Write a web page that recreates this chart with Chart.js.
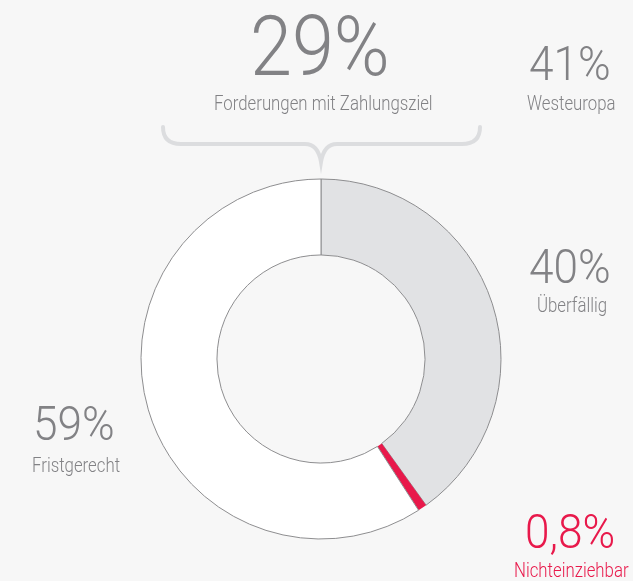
<!DOCTYPE html>
<html>
<head>
<meta charset="utf-8">
<script src="https://cdn.jsdelivr.net/npm/chart.js@4"></script>
<style>
  html, body { margin: 0; padding: 0; background: #f7f7f7; overflow: hidden; }
  #wrap { position: relative; width: 633px; height: 581px; }
  canvas { position: absolute; left: 0; top: 0; }
  .lbl {
    position: absolute; white-space: nowrap; line-height: 1;
    font-family: Roboto, sans-serif; font-weight: 300; color: #828285;
    transform-origin: 0 0;
  }
  .red { color: #e8194b; }
</style>
</head>
<body>
<div id="wrap">
  <canvas id="chart" width="633" height="581"></canvas>
</div>
<script>
// Anteile der Forderungen (Uhrzeigersinn ab 12 Uhr)
const categories = ['Überfällig', 'Nichteinziehbar', 'Fristgerecht'];
const shares = [40, 0.8, 59];
const sliceColors = ['#e1e2e4', '#e8194b', '#ffffff'];
const sliceBorders = ['#8d8d8f', '#e8194b', '#8d8d8f'];
const sliceBorderWidths = [1, 0, 1];

// Beschriftungen: [Text, Mitte x, Grundlinie y, Schriftgröße, Stauchung, rot?]
const labels = [
  ['29%', 320, 76, 84, 0.9, false],
  ['Forderungen mit Zahlungsziel', 323, 111, 21, 0.8, false],
  ['41%', 570, 80, 48, 0.92, false],
  ['Westeuropa', 571, 111, 21, 0.8, false],
  ['40%', 570, 283, 48, 0.92, false],
  ['Überfällig', 572, 313, 21, 0.8, false],
  ['59%', 74, 440, 48, 0.92, false],
  ['Fristgerecht', 76, 473, 21, 0.8, false],
  ['0,8%', 570, 548, 48, 0.92, true],
  ['Nichteinziehbar', 571, 578, 21, 0.8, true]
];

// Geschweifte Klammer über dem Diagramm
const bracePlugin = {
  id: 'brace',
  beforeDraw(chart) {
    const c = chart.ctx;
    c.save();
    c.strokeStyle = '#dcdddf';
    c.lineWidth = 4;
    c.lineCap = 'round';
    c.beginPath();
    c.moveTo(163, 127);
    c.quadraticCurveTo(163, 144, 181, 144);
    c.lineTo(305, 144);
    c.quadraticCurveTo(318, 144, 321, 162);
    c.quadraticCurveTo(324, 144, 337, 144);
    c.lineTo(462, 144);
    c.quadraticCurveTo(480, 144, 480, 127);
    c.stroke();
    c.restore();
  }
};

const ctx = document.getElementById('chart').getContext('2d');
new Chart(ctx, {
  type: 'doughnut',
  data: {
    labels: categories,
    datasets: [{
      data: shares,
      backgroundColor: sliceColors,
      borderColor: sliceBorders,
      borderWidth: sliceBorderWidths
    }]
  },
  options: {
    responsive: false,
    animation: false,
    cutout: '57.8%',
    layout: { padding: { left: 140.5, right: 131.5, top: 178.5, bottom: 41.5 } },
    plugins: { legend: { display: false }, tooltip: { enabled: false } }
  },
  plugins: [bracePlugin]
});

const wrap = document.getElementById('wrap');
labels.forEach(([text, cx, base, size, sx, red]) => {
  const d = document.createElement('div');
  d.className = 'lbl' + (red ? ' red' : '');
  d.textContent = text;
  d.style.fontSize = size + 'px';
  wrap.appendChild(d);
  const w = d.getBoundingClientRect().width * sx;
  d.style.left = (cx - w / 2) + 'px';
  d.style.top = (base - 0.842 * size) + 'px';
  d.style.transform = 'scaleX(' + sx + ')';
});
</script>
</body>
</html>
